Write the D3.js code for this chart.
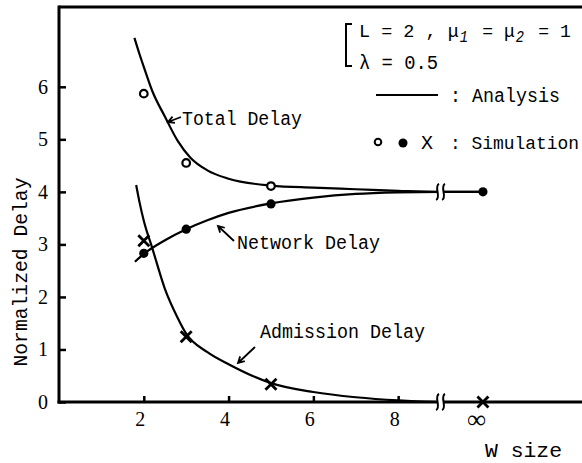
<!DOCTYPE html>
<html>
<head>
<meta charset="utf-8">
<script src="https://cdn.jsdelivr.net/npm/d3@7"></script>
<style>
  html, body { margin: 0; padding: 0; background: #fff; }
  svg { display: block; }
</style>
</head>
<body>
<div id="chart"></div>
<script>
// ---------- data ----------
const W_INF = 10;      // position used for W = infinity
const W_BREAK = 9;     // axis break position
const xTickValues = [2, 4, 6, 8, W_INF];
const xTickLabels = ["2", "4", "6", "8", "\u221E"];
const yTickValues = [0, 1, 2, 3, 4, 5, 6];

// analysis curves (W, normalized delay)
const totalW      = [1.78, 1.9, 2.0, 2.2, 2.5, 2.8, 3.1, 3.5, 4.0, 5, 6, 7, 8, 9, 10];
const totalAna    = [6.93, 6.62, 6.38, 5.92, 5.43, 4.97, 4.65, 4.41, 4.25, 4.12, 4.08, 4.05, 4.02, 4.0, 4.0];
const networkW    = [1.79, 2.0, 2.5, 3.0, 3.5, 4.0, 5, 6, 7, 8, 9, 10];
const networkAna  = [2.67, 2.82, 3.08, 3.29, 3.46, 3.6, 3.78, 3.89, 3.96, 3.99, 4.0, 4.0];
const admissionW   = [1.82, 1.9, 2.0, 2.2, 2.5, 2.8, 3.0, 3.5, 4.0, 5, 6, 7, 8, 9, 10];
const admissionAna = [4.13, 3.8, 3.45, 2.93, 2.15, 1.6, 1.3, 0.95, 0.72, 0.36, 0.19, 0.09, 0.03, 0.0, 0.0];

// simulation points
const simW            = [2, 3, 5, W_INF];
const totalSim        = [5.87, 4.55, 4.11, null];
const networkSim      = [2.83, 3.29, 3.77, 4.0];
const admissionSim    = [3.07, 1.24, 0.34, 0.0];

// ---------- drawing ----------
const width = 582, height = 463;
const svg = d3.select("#chart").append("svg")
  .attr("width", width).attr("height", height);

const x = d3.scaleLinear().domain([0, 12.36]).range([59, 583]);
const y = d3.scaleLinear().domain([0, 7.5]).range([402, 8]);

const mono = "'Liberation Mono', 'DejaVu Sans Mono', monospace";
const serif = "'Liberation Serif', 'DejaVu Serif', serif";

// top border
svg.append("line")
  .attr("x1", x(0)).attr("x2", width + 2)
  .attr("y1", 7).attr("y2", 7)
  .attr("stroke", "#000").attr("stroke-width", 3);

// y axis
const yAxis = d3.axisLeft(y).tickValues(yTickValues)
  .tickSizeInner(-7).tickSizeOuter(0).tickPadding(11)
  .tickFormat(d3.format("d"));
const gy = svg.append("g").attr("transform", `translate(${x(0)},0)`).call(yAxis);
gy.select(".domain").attr("d", `M0,${y(0) + 1.5}V5.5`).attr("stroke-width", 3);
gy.selectAll(".tick line").attr("stroke-width", 2.5);
gy.selectAll(".tick text").attr("font-family", serif).attr("font-size", 20).attr("fill", "#000");

// x axis
const xAxis = d3.axisBottom(x).tickValues(xTickValues)
  .tickSizeInner(-6).tickSizeOuter(0).tickPadding(10)
  .tickFormat((d, i) => xTickLabels[i]);
const gx = svg.append("g").attr("transform", `translate(0,${y(0)})`).call(xAxis);
gx.select(".domain").attr("d", `M${x(0) - 1.5},0H${width + 2}`).attr("stroke-width", 3);
gx.selectAll(".tick line").attr("stroke-width", 2.5);
gx.selectAll(".tick text").attr("font-family", serif).attr("font-size", 20).attr("fill", "#000")
  .attr("dx", -4);
gx.selectAll(".tick").filter(d => d === W_INF).select("text")
  .attr("font-size", 26).attr("font-weight", "bold").attr("dx", -7).attr("dy", "0.6em");
gx.selectAll(".tick").filter(d => d === W_INF).select("line").remove();

// analysis curves
const line = d3.line().x(d => x(d[0])).y(d => y(d[1])).curve(d3.curveMonotoneX);
const curves = [
  d3.zip(totalW, totalAna),
  d3.zip(networkW, networkAna),
  d3.zip(admissionW, admissionAna)
];
svg.append("g").selectAll("path").data(curves).join("path")
  .attr("d", line).attr("fill", "none").attr("stroke", "#000").attr("stroke-width", 2.2);

// axis breaks
function drawBreak(cx, cy) {
  const g = svg.append("g").attr("transform", `translate(${cx},${cy})`);
  g.append("rect").attr("x", -3.5).attr("y", -4).attr("width", 7).attr("height", 8).attr("fill", "#fff");
  [-3, 3].forEach(dx => {
    g.append("path")
      .attr("d", `M${dx + 1.5},-8 C${dx - 4},-6 ${dx + 4},6 ${dx - 1.5},8`)
      .attr("fill", "none").attr("stroke", "#000").attr("stroke-width", 2);
  });
}
drawBreak(x(W_BREAK), y(4.0));
drawBreak(x(W_BREAK), y(0));

// simulation markers
const simG = svg.append("g");
simW.forEach((w, i) => {
  if (totalSim[i] != null) {
    simG.append("circle").attr("cx", x(w)).attr("cy", y(totalSim[i])).attr("r", 3.8)
      .attr("fill", "#fff").attr("stroke", "#000").attr("stroke-width", 2.2);
  }
  simG.append("circle").attr("cx", x(w)).attr("cy", y(networkSim[i])).attr("r", 4.6)
    .attr("fill", "#000");
  const cx = x(w), cy = y(admissionSim[i]), s = 5.5;
  simG.append("path").attr("d", `M${cx - s},${cy - s}L${cx + s},${cy + s}M${cx + s},${cy - s}L${cx - s},${cy + s}`)
    .attr("stroke", "#000").attr("stroke-width", 2.8);
});

// text helper
function label(txt, x0, yb, len, size, font) {
  const t = svg.append("text").attr("x", x0).attr("y", yb)
    .attr("font-family", font || mono).attr("font-size", size || 20).attr("fill", "#000")
    .text(txt);
  if (len) t.attr("textLength", len).attr("lengthAdjust", "spacingAndGlyphs");
  return t;
}

// curve annotations
label("Total Delay", 182, 125, 120);
label("Network Delay", 237, 249, 143);
label("Admission Delay", 260, 338, 165);

// arrows
function arrow(x1, y1, x2, y2) {
  const a = Math.atan2(y2 - y1, x2 - x1), h = 7, sp = 0.5;
  svg.append("path")
    .attr("d", `M${x1},${y1}L${x2},${y2}` +
      `M${x2 - h * Math.cos(a - sp)},${y2 - h * Math.sin(a - sp)}L${x2},${y2}` +
      `L${x2 - h * Math.cos(a + sp)},${y2 - h * Math.sin(a + sp)}`)
    .attr("fill", "none").attr("stroke", "#000").attr("stroke-width", 1.8);
}
arrow(181, 117, 168, 122);
arrow(234, 241, 218, 226);
arrow(255, 347, 238, 363);

// axis titles
label("W size", 485, 457, 77);
svg.append("text")
  .attr("transform", "translate(27,272) rotate(-90)")
  .attr("text-anchor", "middle")
  .attr("font-family", mono).attr("font-size", 20).attr("fill", "#000")
  .attr("textLength", 189).attr("lengthAdjust", "spacingAndGlyphs")
  .text("Normalized Delay");

// legend: parameters with bracket
svg.append("path").attr("d", "M352,24H346V66H352")
  .attr("fill", "none").attr("stroke", "#000").attr("stroke-width", 2);
const cw = 11.2;
label("L = 2 , \u03BC", 359, 37, 9 * cw - 1, 18);
label("1", 359 + 9 * cw, 42, cw - 3, 16).attr("font-style", "italic");
label("= \u03BC", 359 + 11 * cw, 37, 3 * cw - 1, 18);
label("2", 359 + 14 * cw, 42, cw - 3, 16).attr("font-style", "italic");
label("= 1", 359 + 16 * cw, 37, 3 * cw - 1, 18);
label("\u03BB = 0.5", 359, 69, 79);

// legend: line / markers
svg.append("line").attr("x1", 376).attr("x2", 438).attr("y1", 95).attr("y2", 95)
  .attr("stroke", "#000").attr("stroke-width", 2);
label(": Analysis", 450, 102, 110);
svg.append("circle").attr("cx", 378).attr("cy", 142).attr("r", 3.3)
  .attr("fill", "#fff").attr("stroke", "#000").attr("stroke-width", 2);
svg.append("circle").attr("cx", 403).attr("cy", 143).attr("r", 4.5).attr("fill", "#000");
label("X", 421, 149, 12);
label(": Simulation", 450, 149, 129, 17.5);
</script>
</body>
</html>
